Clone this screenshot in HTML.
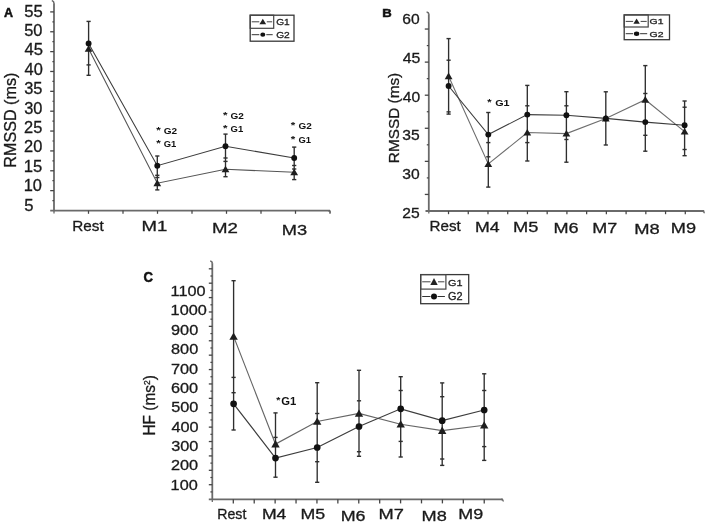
<!DOCTYPE html><html><head><meta charset="utf-8"><style>html,body{margin:0;padding:0;background:#fff;}svg{display:block;filter:grayscale(1)}text{font-family:"Liberation Sans", sans-serif;}</style></head><body>
<svg width="706" height="523" viewBox="0 0 706 523">
<rect width="706" height="523" fill="#fff"/>
<text transform="translate(3.89,17.00) scale(0.961,1)" font-size="13.04" font-weight="bold" fill="#111" stroke="#111" stroke-width="0.5">A</text>
<line x1="54.00" y1="3.20" x2="54.00" y2="211.20" stroke="#6a6a6a" stroke-width="1.8"/>
<line x1="50.20" y1="11.90" x2="54.00" y2="11.90" stroke="#454545" stroke-width="1.3"/>
<line x1="52.40" y1="21.83" x2="54.00" y2="21.83" stroke="#454545" stroke-width="1.2"/>
<line x1="50.20" y1="31.76" x2="54.00" y2="31.76" stroke="#454545" stroke-width="1.3"/>
<line x1="52.40" y1="41.69" x2="54.00" y2="41.69" stroke="#454545" stroke-width="1.2"/>
<line x1="50.20" y1="51.62" x2="54.00" y2="51.62" stroke="#454545" stroke-width="1.3"/>
<line x1="52.40" y1="61.55" x2="54.00" y2="61.55" stroke="#454545" stroke-width="1.2"/>
<line x1="50.20" y1="71.48" x2="54.00" y2="71.48" stroke="#454545" stroke-width="1.3"/>
<line x1="52.40" y1="81.41" x2="54.00" y2="81.41" stroke="#454545" stroke-width="1.2"/>
<line x1="50.20" y1="91.34" x2="54.00" y2="91.34" stroke="#454545" stroke-width="1.3"/>
<line x1="52.40" y1="101.27" x2="54.00" y2="101.27" stroke="#454545" stroke-width="1.2"/>
<line x1="50.20" y1="111.20" x2="54.00" y2="111.20" stroke="#454545" stroke-width="1.3"/>
<line x1="52.40" y1="121.13" x2="54.00" y2="121.13" stroke="#454545" stroke-width="1.2"/>
<line x1="50.20" y1="131.06" x2="54.00" y2="131.06" stroke="#454545" stroke-width="1.3"/>
<line x1="52.40" y1="140.99" x2="54.00" y2="140.99" stroke="#454545" stroke-width="1.2"/>
<line x1="50.20" y1="150.92" x2="54.00" y2="150.92" stroke="#454545" stroke-width="1.3"/>
<line x1="52.40" y1="160.85" x2="54.00" y2="160.85" stroke="#454545" stroke-width="1.2"/>
<line x1="50.20" y1="170.78" x2="54.00" y2="170.78" stroke="#454545" stroke-width="1.3"/>
<line x1="52.40" y1="180.71" x2="54.00" y2="180.71" stroke="#454545" stroke-width="1.2"/>
<line x1="50.20" y1="190.64" x2="54.00" y2="190.64" stroke="#454545" stroke-width="1.3"/>
<line x1="52.40" y1="200.57" x2="54.00" y2="200.57" stroke="#454545" stroke-width="1.2"/>
<line x1="50.20" y1="210.60" x2="330.00" y2="210.60" stroke="#6a6a6a" stroke-width="1.8"/>
<line x1="54.00" y1="210.60" x2="54.00" y2="213.40" stroke="#6a6a6a" stroke-width="1.3"/>
<line x1="88.50" y1="210.60" x2="88.50" y2="213.80" stroke="#454545" stroke-width="1.25"/>
<line x1="123.00" y1="210.60" x2="123.00" y2="213.80" stroke="#454545" stroke-width="1.25"/>
<line x1="157.50" y1="210.60" x2="157.50" y2="213.80" stroke="#454545" stroke-width="1.25"/>
<line x1="192.00" y1="210.60" x2="192.00" y2="213.80" stroke="#454545" stroke-width="1.25"/>
<line x1="226.50" y1="210.60" x2="226.50" y2="213.80" stroke="#454545" stroke-width="1.25"/>
<line x1="261.00" y1="210.60" x2="261.00" y2="213.80" stroke="#454545" stroke-width="1.25"/>
<line x1="295.50" y1="210.60" x2="295.50" y2="213.80" stroke="#454545" stroke-width="1.25"/>
<line x1="330.00" y1="210.60" x2="330.00" y2="213.80" stroke="#454545" stroke-width="1.25"/>
<text transform="translate(24.23,16.70) scale(1.045,1)" font-size="15.94" font-weight="normal" fill="#1a1a1a" stroke="#1a1a1a" stroke-width="0.3">55</text>
<text transform="translate(24.24,36.09) scale(1.045,1)" font-size="15.71" font-weight="normal" fill="#1a1a1a" stroke="#1a1a1a" stroke-width="0.3">50</text>
<text transform="translate(24.57,55.48) scale(1.045,1)" font-size="15.94" font-weight="normal" fill="#1a1a1a" stroke="#1a1a1a" stroke-width="0.3">45</text>
<text transform="translate(24.57,74.87) scale(1.045,1)" font-size="15.71" font-weight="normal" fill="#1a1a1a" stroke="#1a1a1a" stroke-width="0.3">40</text>
<text transform="translate(24.24,94.26) scale(1.045,1)" font-size="15.71" font-weight="normal" fill="#1a1a1a" stroke="#1a1a1a" stroke-width="0.3">35</text>
<text transform="translate(24.24,113.65) scale(1.045,1)" font-size="15.71" font-weight="normal" fill="#1a1a1a" stroke="#1a1a1a" stroke-width="0.3">30</text>
<text transform="translate(24.08,133.04) scale(1.045,1)" font-size="15.71" font-weight="normal" fill="#1a1a1a" stroke="#1a1a1a" stroke-width="0.3">25</text>
<text transform="translate(24.08,152.43) scale(1.045,1)" font-size="15.71" font-weight="normal" fill="#1a1a1a" stroke="#1a1a1a" stroke-width="0.3">20</text>
<text transform="translate(23.65,171.82) scale(1.045,1)" font-size="15.94" font-weight="normal" fill="#1a1a1a" stroke="#1a1a1a" stroke-width="0.3">15</text>
<text transform="translate(23.67,191.21) scale(1.045,1)" font-size="15.71" font-weight="normal" fill="#1a1a1a" stroke="#1a1a1a" stroke-width="0.3">10</text>
<text transform="translate(24.23,210.60) scale(1.045,1)" font-size="15.94" font-weight="normal" fill="#1a1a1a" stroke="#1a1a1a" stroke-width="0.3">5</text>
<text transform="translate(16.40,167.69) rotate(-90) scale(0.961,1)" font-size="16.81" fill="#1a1a1a" stroke="#1a1a1a" stroke-width="0.3">RMSSD (ms)</text>
<text transform="translate(72.28,231.40) scale(1.044,1)" font-size="14.64" font-weight="normal" fill="#1a1a1a" stroke="#1a1a1a" stroke-width="0.3">Rest</text>
<text transform="translate(141.51,231.40) scale(1.269,1)" font-size="14.64" font-weight="normal" fill="#1a1a1a" stroke="#1a1a1a" stroke-width="0.3">M1</text>
<text transform="translate(212.01,233.20) scale(1.268,1)" font-size="14.71" font-weight="normal" fill="#1a1a1a" stroke="#1a1a1a" stroke-width="0.3">M2</text>
<text transform="translate(281.84,234.80) scale(1.218,1)" font-size="15.00" font-weight="normal" fill="#1a1a1a" stroke="#1a1a1a" stroke-width="0.3">M3</text>
<polyline points="88.60,48.80 157.30,183.20 225.50,169.30 294.20,172.30" fill="none" stroke="#555" stroke-width="1.1"/>
<polyline points="88.60,43.40 157.30,165.70 225.50,146.30 294.20,158.00" fill="none" stroke="#3c3c3c" stroke-width="1.1"/>
<line x1="88.60" y1="21.40" x2="88.60" y2="75.30" stroke="#2e2e2e" stroke-width="1.35"/>
<line x1="86.50" y1="21.40" x2="90.70" y2="21.40" stroke="#2e2e2e" stroke-width="1.4"/>
<line x1="86.50" y1="64.90" x2="90.70" y2="64.90" stroke="#2e2e2e" stroke-width="1.4"/>
<line x1="86.50" y1="75.30" x2="90.70" y2="75.30" stroke="#2e2e2e" stroke-width="1.4"/>
<line x1="157.30" y1="156.00" x2="157.30" y2="189.90" stroke="#2e2e2e" stroke-width="1.35"/>
<line x1="155.20" y1="156.00" x2="159.40" y2="156.00" stroke="#2e2e2e" stroke-width="1.4"/>
<line x1="155.20" y1="175.30" x2="159.40" y2="175.30" stroke="#2e2e2e" stroke-width="1.4"/>
<line x1="155.20" y1="177.50" x2="159.40" y2="177.50" stroke="#2e2e2e" stroke-width="1.4"/>
<line x1="155.20" y1="189.90" x2="159.40" y2="189.90" stroke="#2e2e2e" stroke-width="1.4"/>
<line x1="225.50" y1="134.10" x2="225.50" y2="176.70" stroke="#2e2e2e" stroke-width="1.35"/>
<line x1="223.40" y1="134.10" x2="227.60" y2="134.10" stroke="#2e2e2e" stroke-width="1.4"/>
<line x1="223.40" y1="158.00" x2="227.60" y2="158.00" stroke="#2e2e2e" stroke-width="1.4"/>
<line x1="223.40" y1="161.40" x2="227.60" y2="161.40" stroke="#2e2e2e" stroke-width="1.4"/>
<line x1="223.40" y1="176.70" x2="227.60" y2="176.70" stroke="#2e2e2e" stroke-width="1.4"/>
<line x1="294.20" y1="147.10" x2="294.20" y2="179.60" stroke="#2e2e2e" stroke-width="1.35"/>
<line x1="292.10" y1="147.10" x2="296.30" y2="147.10" stroke="#2e2e2e" stroke-width="1.4"/>
<line x1="292.10" y1="165.50" x2="296.30" y2="165.50" stroke="#2e2e2e" stroke-width="1.4"/>
<line x1="292.10" y1="169.00" x2="296.30" y2="169.00" stroke="#2e2e2e" stroke-width="1.4"/>
<line x1="292.10" y1="179.60" x2="296.30" y2="179.60" stroke="#2e2e2e" stroke-width="1.4"/>
<polygon points="88.60,45.20 92.50,51.80 84.70,51.80" fill="#1e1e1e"/>
<polygon points="157.30,179.60 161.20,186.20 153.40,186.20" fill="#1e1e1e"/>
<polygon points="225.50,165.70 229.40,172.30 221.60,172.30" fill="#1e1e1e"/>
<polygon points="294.20,168.70 298.10,175.30 290.30,175.30" fill="#1e1e1e"/>
<circle cx="88.60" cy="43.40" r="2.95" fill="#111"/>
<circle cx="157.30" cy="165.70" r="2.95" fill="#111"/>
<circle cx="225.50" cy="146.30" r="2.95" fill="#111"/>
<circle cx="294.20" cy="158.00" r="2.95" fill="#111"/>
<text transform="translate(156.14,133.17) scale(1.339,1)" font-size="8.65" font-weight="bold" fill="#111">*</text>
<text transform="translate(163.70,134.10) scale(1.065,1)" font-size="9.43" font-weight="bold" fill="#111">G2</text>
<text transform="translate(156.14,145.77) scale(1.339,1)" font-size="8.65" font-weight="bold" fill="#111">*</text>
<text transform="translate(163.72,146.70) scale(1.002,1)" font-size="9.43" font-weight="bold" fill="#111">G1</text>
<text transform="translate(222.94,117.87) scale(1.339,1)" font-size="8.65" font-weight="bold" fill="#111">*</text>
<text transform="translate(230.50,118.60) scale(1.098,1)" font-size="9.14" font-weight="bold" fill="#111">G2</text>
<text transform="translate(222.94,131.37) scale(1.339,1)" font-size="8.65" font-weight="bold" fill="#111">*</text>
<text transform="translate(230.52,132.10) scale(1.042,1)" font-size="9.14" font-weight="bold" fill="#111">G1</text>
<text transform="translate(290.74,128.37) scale(1.339,1)" font-size="8.65" font-weight="bold" fill="#111">*</text>
<text transform="translate(298.40,129.20) scale(1.073,1)" font-size="9.29" font-weight="bold" fill="#111">G2</text>
<text transform="translate(290.74,141.67) scale(1.339,1)" font-size="8.65" font-weight="bold" fill="#111">*</text>
<text transform="translate(298.42,142.60) scale(1.002,1)" font-size="9.43" font-weight="bold" fill="#111">G1</text>
<rect x="250.20" y="15.20" width="43.80" height="26.00" fill="#fff" stroke="#383838" stroke-width="1.3"/>
<rect x="250.20" y="15.20" width="23.50" height="13.10" fill="none" stroke="#444" stroke-width="1.2"/>
<line x1="251.70" y1="21.80" x2="259.30" y2="21.80" stroke="#444" stroke-width="1.0"/>
<line x1="266.80" y1="21.80" x2="272.20" y2="21.80" stroke="#444" stroke-width="1.0"/>
<polygon points="262.80,18.70 266.15,24.30 259.45,24.30" fill="#222"/>
<line x1="251.70" y1="34.70" x2="259.30" y2="34.70" stroke="#333" stroke-width="1.0"/>
<line x1="266.30" y1="34.70" x2="272.70" y2="34.70" stroke="#333" stroke-width="1.0"/>
<ellipse cx="262.80" cy="34.70" rx="2.5" ry="2.1" fill="#111"/>
<text transform="translate(276.19,25.30) scale(1.111,1)" font-size="9.14" font-weight="normal" fill="#222" stroke="#222" stroke-width="0.3">G1</text>
<text transform="translate(276.19,37.90) scale(1.134,1)" font-size="9.00" font-weight="normal" fill="#222" stroke="#222" stroke-width="0.3">G2</text>
<path d="M51.8,0.6 Q54,1.2 54,3.5" fill="none" stroke="#6a6a6a" stroke-width="1.5"/>
<path d="M328,210.6 Q330.2,210.8 330.4,212.8" fill="none" stroke="#6a6a6a" stroke-width="1.4"/>
<text transform="translate(382.15,16.50) scale(1.160,1)" font-size="11.30" font-weight="bold" fill="#111" stroke="#111" stroke-width="0.5">B</text>
<line x1="428.80" y1="14.20" x2="428.80" y2="211.60" stroke="#6a6a6a" stroke-width="1.8"/>
<line x1="424.80" y1="29.04" x2="428.80" y2="29.04" stroke="#454545" stroke-width="1.3"/>
<line x1="426.80" y1="45.58" x2="428.80" y2="45.58" stroke="#454545" stroke-width="1.2"/>
<line x1="424.80" y1="62.12" x2="428.80" y2="62.12" stroke="#454545" stroke-width="1.3"/>
<line x1="426.80" y1="78.66" x2="428.80" y2="78.66" stroke="#454545" stroke-width="1.2"/>
<line x1="424.80" y1="95.20" x2="428.80" y2="95.20" stroke="#454545" stroke-width="1.3"/>
<line x1="426.80" y1="111.74" x2="428.80" y2="111.74" stroke="#454545" stroke-width="1.2"/>
<line x1="424.80" y1="128.28" x2="428.80" y2="128.28" stroke="#454545" stroke-width="1.3"/>
<line x1="426.80" y1="144.82" x2="428.80" y2="144.82" stroke="#454545" stroke-width="1.2"/>
<line x1="424.80" y1="161.36" x2="428.80" y2="161.36" stroke="#454545" stroke-width="1.3"/>
<line x1="426.80" y1="177.90" x2="428.80" y2="177.90" stroke="#454545" stroke-width="1.2"/>
<line x1="424.80" y1="194.44" x2="428.80" y2="194.44" stroke="#454545" stroke-width="1.3"/>
<line x1="425.50" y1="211.00" x2="704.20" y2="211.00" stroke="#6a6a6a" stroke-width="1.8"/>
<line x1="428.80" y1="211.00" x2="428.80" y2="213.60" stroke="#6a6a6a" stroke-width="1.3"/>
<line x1="448.53" y1="211.00" x2="448.53" y2="214.20" stroke="#454545" stroke-width="1.25"/>
<line x1="468.26" y1="211.00" x2="468.26" y2="214.20" stroke="#454545" stroke-width="1.25"/>
<line x1="487.99" y1="211.00" x2="487.99" y2="214.20" stroke="#454545" stroke-width="1.25"/>
<line x1="507.72" y1="211.00" x2="507.72" y2="214.20" stroke="#454545" stroke-width="1.25"/>
<line x1="527.45" y1="211.00" x2="527.45" y2="214.20" stroke="#454545" stroke-width="1.25"/>
<line x1="547.18" y1="211.00" x2="547.18" y2="214.20" stroke="#454545" stroke-width="1.25"/>
<line x1="566.91" y1="211.00" x2="566.91" y2="214.20" stroke="#454545" stroke-width="1.25"/>
<line x1="586.64" y1="211.00" x2="586.64" y2="214.20" stroke="#454545" stroke-width="1.25"/>
<line x1="606.37" y1="211.00" x2="606.37" y2="214.20" stroke="#454545" stroke-width="1.25"/>
<line x1="626.10" y1="211.00" x2="626.10" y2="214.20" stroke="#454545" stroke-width="1.25"/>
<line x1="645.83" y1="211.00" x2="645.83" y2="214.20" stroke="#454545" stroke-width="1.25"/>
<line x1="665.56" y1="211.00" x2="665.56" y2="214.20" stroke="#454545" stroke-width="1.25"/>
<line x1="685.29" y1="211.00" x2="685.29" y2="214.20" stroke="#454545" stroke-width="1.25"/>
<text transform="translate(402.22,24.10) scale(1.074,1)" font-size="14.57" font-weight="normal" fill="#1a1a1a" stroke="#1a1a1a" stroke-width="0.3">60</text>
<text transform="translate(402.68,62.80) scale(1.074,1)" font-size="14.78" font-weight="normal" fill="#1a1a1a" stroke="#1a1a1a" stroke-width="0.3">45</text>
<text transform="translate(402.69,101.50) scale(1.074,1)" font-size="14.57" font-weight="normal" fill="#1a1a1a" stroke="#1a1a1a" stroke-width="0.3">40</text>
<text transform="translate(402.37,140.20) scale(1.074,1)" font-size="14.57" font-weight="normal" fill="#1a1a1a" stroke="#1a1a1a" stroke-width="0.3">35</text>
<text transform="translate(402.37,178.90) scale(1.074,1)" font-size="14.57" font-weight="normal" fill="#1a1a1a" stroke="#1a1a1a" stroke-width="0.3">30</text>
<text transform="translate(402.22,217.60) scale(1.074,1)" font-size="14.57" font-weight="normal" fill="#1a1a1a" stroke="#1a1a1a" stroke-width="0.3">25</text>
<text transform="translate(398.80,163.13) rotate(-90) scale(1.019,1)" font-size="15.07" fill="#1a1a1a" stroke="#1a1a1a" stroke-width="0.3">RMSSD (ms)</text>
<text transform="translate(429.59,231.20) scale(1.027,1)" font-size="14.78" font-weight="normal" fill="#1a1a1a" stroke="#1a1a1a" stroke-width="0.3">Rest</text>
<text transform="translate(475.08,232.00) scale(1.144,1)" font-size="15.51" font-weight="normal" fill="#1a1a1a" stroke="#1a1a1a" stroke-width="0.3">M4</text>
<text transform="translate(513.04,232.00) scale(1.178,1)" font-size="15.51" font-weight="normal" fill="#1a1a1a" stroke="#1a1a1a" stroke-width="0.3">M5</text>
<text transform="translate(553.55,233.00) scale(1.243,1)" font-size="14.57" font-weight="normal" fill="#1a1a1a" stroke="#1a1a1a" stroke-width="0.3">M6</text>
<text transform="translate(592.16,232.50) scale(1.195,1)" font-size="15.07" font-weight="normal" fill="#1a1a1a" stroke="#1a1a1a" stroke-width="0.3">M7</text>
<text transform="translate(634.23,233.60) scale(1.247,1)" font-size="14.71" font-weight="normal" fill="#1a1a1a" stroke="#1a1a1a" stroke-width="0.3">M8</text>
<text transform="translate(670.75,232.50) scale(1.224,1)" font-size="14.86" font-weight="normal" fill="#1a1a1a" stroke="#1a1a1a" stroke-width="0.3">M9</text>
<polyline points="448.60,76.20 488.30,164.00 527.30,132.50 566.40,133.60 605.80,118.40 645.30,99.70 684.60,131.60" fill="none" stroke="#6e6e6e" stroke-width="1.1"/>
<polyline points="448.60,86.00 488.30,134.60 527.30,114.60 566.40,115.30 605.80,118.40 645.30,122.10 684.60,125.30" fill="none" stroke="#3c3c3c" stroke-width="1.1"/>
<line x1="448.60" y1="38.60" x2="448.60" y2="114.10" stroke="#2e2e2e" stroke-width="1.35"/>
<line x1="446.50" y1="38.60" x2="450.70" y2="38.60" stroke="#2e2e2e" stroke-width="1.4"/>
<line x1="446.50" y1="60.20" x2="450.70" y2="60.20" stroke="#2e2e2e" stroke-width="1.4"/>
<line x1="446.50" y1="111.90" x2="450.70" y2="111.90" stroke="#2e2e2e" stroke-width="1.4"/>
<line x1="446.50" y1="114.10" x2="450.70" y2="114.10" stroke="#2e2e2e" stroke-width="1.4"/>
<line x1="488.30" y1="112.50" x2="488.30" y2="187.10" stroke="#2e2e2e" stroke-width="1.35"/>
<line x1="486.20" y1="112.50" x2="490.40" y2="112.50" stroke="#2e2e2e" stroke-width="1.4"/>
<line x1="486.20" y1="142.60" x2="490.40" y2="142.60" stroke="#2e2e2e" stroke-width="1.4"/>
<line x1="486.20" y1="156.80" x2="490.40" y2="156.80" stroke="#2e2e2e" stroke-width="1.4"/>
<line x1="486.20" y1="187.10" x2="490.40" y2="187.10" stroke="#2e2e2e" stroke-width="1.4"/>
<line x1="527.30" y1="85.40" x2="527.30" y2="161.00" stroke="#2e2e2e" stroke-width="1.35"/>
<line x1="525.20" y1="85.40" x2="529.40" y2="85.40" stroke="#2e2e2e" stroke-width="1.4"/>
<line x1="525.20" y1="105.80" x2="529.40" y2="105.80" stroke="#2e2e2e" stroke-width="1.4"/>
<line x1="525.20" y1="142.60" x2="529.40" y2="142.60" stroke="#2e2e2e" stroke-width="1.4"/>
<line x1="525.20" y1="161.00" x2="529.40" y2="161.00" stroke="#2e2e2e" stroke-width="1.4"/>
<line x1="566.40" y1="91.70" x2="566.40" y2="162.20" stroke="#2e2e2e" stroke-width="1.35"/>
<line x1="564.30" y1="91.70" x2="568.50" y2="91.70" stroke="#2e2e2e" stroke-width="1.4"/>
<line x1="564.30" y1="105.80" x2="568.50" y2="105.80" stroke="#2e2e2e" stroke-width="1.4"/>
<line x1="564.30" y1="139.50" x2="568.50" y2="139.50" stroke="#2e2e2e" stroke-width="1.4"/>
<line x1="564.30" y1="162.20" x2="568.50" y2="162.20" stroke="#2e2e2e" stroke-width="1.4"/>
<line x1="605.80" y1="91.80" x2="605.80" y2="145.00" stroke="#2e2e2e" stroke-width="1.35"/>
<line x1="603.70" y1="91.80" x2="607.90" y2="91.80" stroke="#2e2e2e" stroke-width="1.4"/>
<line x1="603.70" y1="145.00" x2="607.90" y2="145.00" stroke="#2e2e2e" stroke-width="1.4"/>
<line x1="645.30" y1="65.60" x2="645.30" y2="151.20" stroke="#2e2e2e" stroke-width="1.35"/>
<line x1="643.20" y1="65.60" x2="647.40" y2="65.60" stroke="#2e2e2e" stroke-width="1.4"/>
<line x1="643.20" y1="93.50" x2="647.40" y2="93.50" stroke="#2e2e2e" stroke-width="1.4"/>
<line x1="643.20" y1="135.30" x2="647.40" y2="135.30" stroke="#2e2e2e" stroke-width="1.4"/>
<line x1="643.20" y1="151.20" x2="647.40" y2="151.20" stroke="#2e2e2e" stroke-width="1.4"/>
<line x1="684.60" y1="101.00" x2="684.60" y2="155.70" stroke="#2e2e2e" stroke-width="1.35"/>
<line x1="682.50" y1="101.00" x2="686.70" y2="101.00" stroke="#2e2e2e" stroke-width="1.4"/>
<line x1="682.50" y1="107.20" x2="686.70" y2="107.20" stroke="#2e2e2e" stroke-width="1.4"/>
<line x1="682.50" y1="149.50" x2="686.70" y2="149.50" stroke="#2e2e2e" stroke-width="1.4"/>
<line x1="682.50" y1="155.70" x2="686.70" y2="155.70" stroke="#2e2e2e" stroke-width="1.4"/>
<polygon points="448.60,72.60 452.50,79.20 444.70,79.20" fill="#1e1e1e"/>
<polygon points="488.30,160.40 492.20,167.00 484.40,167.00" fill="#1e1e1e"/>
<polygon points="527.30,128.90 531.20,135.50 523.40,135.50" fill="#1e1e1e"/>
<polygon points="566.40,130.00 570.30,136.60 562.50,136.60" fill="#1e1e1e"/>
<polygon points="605.80,114.80 609.70,121.40 601.90,121.40" fill="#1e1e1e"/>
<polygon points="645.30,96.10 649.20,102.70 641.40,102.70" fill="#1e1e1e"/>
<polygon points="684.60,128.00 688.50,134.60 680.70,134.60" fill="#1e1e1e"/>
<circle cx="448.60" cy="86.00" r="2.95" fill="#111"/>
<circle cx="488.30" cy="134.60" r="2.95" fill="#111"/>
<circle cx="527.30" cy="114.60" r="2.95" fill="#111"/>
<circle cx="566.40" cy="115.30" r="2.95" fill="#111"/>
<circle cx="605.80" cy="118.40" r="2.95" fill="#111"/>
<circle cx="645.30" cy="122.10" r="2.95" fill="#111"/>
<circle cx="684.60" cy="125.30" r="2.95" fill="#111"/>
<text transform="translate(487.14,104.97) scale(1.278,1)" font-size="8.65" font-weight="bold" fill="#111">*</text>
<text transform="translate(495.17,106.40) scale(1.180,1)" font-size="9.14" font-weight="bold" fill="#111">G1</text>
<rect x="624.20" y="14.90" width="45.30" height="24.80" fill="#fff" stroke="#383838" stroke-width="1.3"/>
<rect x="624.20" y="14.90" width="24.00" height="12.10" fill="none" stroke="#444" stroke-width="1.2"/>
<line x1="625.70" y1="21.40" x2="633.10" y2="21.40" stroke="#444" stroke-width="1.0"/>
<line x1="640.60" y1="21.40" x2="646.70" y2="21.40" stroke="#444" stroke-width="1.0"/>
<polygon points="636.60,18.50 639.80,23.70 633.40,23.70" fill="#222"/>
<line x1="625.70" y1="33.70" x2="633.10" y2="33.70" stroke="#333" stroke-width="1.0"/>
<line x1="640.10" y1="33.70" x2="647.20" y2="33.70" stroke="#333" stroke-width="1.0"/>
<ellipse cx="636.60" cy="33.70" rx="2.7" ry="2.2" fill="#111"/>
<text transform="translate(649.58,24.30) scale(1.349,1)" font-size="7.71" font-weight="normal" fill="#222" stroke="#222" stroke-width="0.3">G1</text>
<text transform="translate(649.58,36.50) scale(1.329,1)" font-size="7.86" font-weight="normal" fill="#222" stroke="#222" stroke-width="0.3">G2</text>
<path d="M426.6,12 Q428.8,12.4 428.8,14.5" fill="none" stroke="#6a6a6a" stroke-width="1.5"/>
<path d="M702,211 Q704.2,211.2 704.4,213.2" fill="none" stroke="#6a6a6a" stroke-width="1.4"/>
<text transform="translate(143.47,281.80) scale(0.938,1)" font-size="14.00" font-weight="bold" fill="#111" stroke="#111" stroke-width="0.5">C</text>
<line x1="212.30" y1="263.20" x2="212.30" y2="499.60" stroke="#6a6a6a" stroke-width="1.8"/>
<line x1="208.80" y1="268.80" x2="212.30" y2="268.80" stroke="#454545" stroke-width="1.3"/>
<line x1="210.40" y1="276.00" x2="212.30" y2="276.00" stroke="#454545" stroke-width="1.2"/>
<line x1="208.80" y1="283.19" x2="212.30" y2="283.19" stroke="#454545" stroke-width="1.3"/>
<line x1="210.40" y1="290.39" x2="212.30" y2="290.39" stroke="#454545" stroke-width="1.2"/>
<line x1="208.80" y1="297.59" x2="212.30" y2="297.59" stroke="#454545" stroke-width="1.3"/>
<line x1="210.40" y1="304.79" x2="212.30" y2="304.79" stroke="#454545" stroke-width="1.2"/>
<line x1="208.80" y1="311.98" x2="212.30" y2="311.98" stroke="#454545" stroke-width="1.3"/>
<line x1="210.40" y1="319.18" x2="212.30" y2="319.18" stroke="#454545" stroke-width="1.2"/>
<line x1="208.80" y1="326.38" x2="212.30" y2="326.38" stroke="#454545" stroke-width="1.3"/>
<line x1="210.40" y1="333.57" x2="212.30" y2="333.57" stroke="#454545" stroke-width="1.2"/>
<line x1="208.80" y1="340.77" x2="212.30" y2="340.77" stroke="#454545" stroke-width="1.3"/>
<line x1="210.40" y1="347.97" x2="212.30" y2="347.97" stroke="#454545" stroke-width="1.2"/>
<line x1="208.80" y1="355.16" x2="212.30" y2="355.16" stroke="#454545" stroke-width="1.3"/>
<line x1="210.40" y1="362.36" x2="212.30" y2="362.36" stroke="#454545" stroke-width="1.2"/>
<line x1="208.80" y1="369.56" x2="212.30" y2="369.56" stroke="#454545" stroke-width="1.3"/>
<line x1="210.40" y1="376.75" x2="212.30" y2="376.75" stroke="#454545" stroke-width="1.2"/>
<line x1="208.80" y1="383.95" x2="212.30" y2="383.95" stroke="#454545" stroke-width="1.3"/>
<line x1="210.40" y1="391.15" x2="212.30" y2="391.15" stroke="#454545" stroke-width="1.2"/>
<line x1="208.80" y1="398.35" x2="212.30" y2="398.35" stroke="#454545" stroke-width="1.3"/>
<line x1="210.40" y1="405.54" x2="212.30" y2="405.54" stroke="#454545" stroke-width="1.2"/>
<line x1="208.80" y1="412.74" x2="212.30" y2="412.74" stroke="#454545" stroke-width="1.3"/>
<line x1="210.40" y1="419.94" x2="212.30" y2="419.94" stroke="#454545" stroke-width="1.2"/>
<line x1="208.80" y1="427.13" x2="212.30" y2="427.13" stroke="#454545" stroke-width="1.3"/>
<line x1="210.40" y1="434.33" x2="212.30" y2="434.33" stroke="#454545" stroke-width="1.2"/>
<line x1="208.80" y1="441.53" x2="212.30" y2="441.53" stroke="#454545" stroke-width="1.3"/>
<line x1="210.40" y1="448.73" x2="212.30" y2="448.73" stroke="#454545" stroke-width="1.2"/>
<line x1="208.80" y1="455.92" x2="212.30" y2="455.92" stroke="#454545" stroke-width="1.3"/>
<line x1="210.40" y1="463.12" x2="212.30" y2="463.12" stroke="#454545" stroke-width="1.2"/>
<line x1="208.80" y1="470.32" x2="212.30" y2="470.32" stroke="#454545" stroke-width="1.3"/>
<line x1="210.40" y1="477.51" x2="212.30" y2="477.51" stroke="#454545" stroke-width="1.2"/>
<line x1="208.80" y1="484.71" x2="212.30" y2="484.71" stroke="#454545" stroke-width="1.3"/>
<line x1="210.40" y1="491.91" x2="212.30" y2="491.91" stroke="#454545" stroke-width="1.2"/>
<line x1="208.80" y1="499.30" x2="503.00" y2="499.30" stroke="#6a6a6a" stroke-width="1.8"/>
<line x1="212.30" y1="499.30" x2="212.30" y2="502.00" stroke="#6a6a6a" stroke-width="1.3"/>
<line x1="233.31" y1="499.30" x2="233.31" y2="503.40" stroke="#454545" stroke-width="1.3"/>
<line x1="254.22" y1="499.30" x2="254.22" y2="503.40" stroke="#454545" stroke-width="1.3"/>
<line x1="275.13" y1="499.30" x2="275.13" y2="503.40" stroke="#454545" stroke-width="1.3"/>
<line x1="296.04" y1="499.30" x2="296.04" y2="503.40" stroke="#454545" stroke-width="1.3"/>
<line x1="316.95" y1="499.30" x2="316.95" y2="503.40" stroke="#454545" stroke-width="1.3"/>
<line x1="337.86" y1="499.30" x2="337.86" y2="503.40" stroke="#454545" stroke-width="1.3"/>
<line x1="358.77" y1="499.30" x2="358.77" y2="503.40" stroke="#454545" stroke-width="1.3"/>
<line x1="379.68" y1="499.30" x2="379.68" y2="503.40" stroke="#454545" stroke-width="1.3"/>
<line x1="400.59" y1="499.30" x2="400.59" y2="503.40" stroke="#454545" stroke-width="1.3"/>
<line x1="421.50" y1="499.30" x2="421.50" y2="503.40" stroke="#454545" stroke-width="1.3"/>
<line x1="442.41" y1="499.30" x2="442.41" y2="503.40" stroke="#454545" stroke-width="1.3"/>
<line x1="463.32" y1="499.30" x2="463.32" y2="503.40" stroke="#454545" stroke-width="1.3"/>
<line x1="484.23" y1="499.30" x2="484.23" y2="503.40" stroke="#454545" stroke-width="1.3"/>
<text transform="translate(170.58,296.10) scale(1.117,1)" font-size="14.57" font-weight="normal" fill="#1a1a1a" stroke="#1a1a1a" stroke-width="0.3">1100</text>
<text transform="translate(170.58,315.45) scale(1.117,1)" font-size="14.57" font-weight="normal" fill="#1a1a1a" stroke="#1a1a1a" stroke-width="0.3">1000</text>
<text transform="translate(171.07,334.80) scale(1.117,1)" font-size="14.57" font-weight="normal" fill="#1a1a1a" stroke="#1a1a1a" stroke-width="0.3">900</text>
<text transform="translate(171.07,354.15) scale(1.117,1)" font-size="14.57" font-weight="normal" fill="#1a1a1a" stroke="#1a1a1a" stroke-width="0.3">800</text>
<text transform="translate(170.99,373.50) scale(1.117,1)" font-size="14.57" font-weight="normal" fill="#1a1a1a" stroke="#1a1a1a" stroke-width="0.3">700</text>
<text transform="translate(170.99,392.85) scale(1.117,1)" font-size="14.57" font-weight="normal" fill="#1a1a1a" stroke="#1a1a1a" stroke-width="0.3">600</text>
<text transform="translate(171.15,412.20) scale(1.117,1)" font-size="14.57" font-weight="normal" fill="#1a1a1a" stroke="#1a1a1a" stroke-width="0.3">500</text>
<text transform="translate(171.47,431.55) scale(1.117,1)" font-size="14.57" font-weight="normal" fill="#1a1a1a" stroke="#1a1a1a" stroke-width="0.3">400</text>
<text transform="translate(171.15,450.90) scale(1.117,1)" font-size="14.57" font-weight="normal" fill="#1a1a1a" stroke="#1a1a1a" stroke-width="0.3">300</text>
<text transform="translate(170.99,470.25) scale(1.117,1)" font-size="14.57" font-weight="normal" fill="#1a1a1a" stroke="#1a1a1a" stroke-width="0.3">200</text>
<text transform="translate(170.58,489.60) scale(1.117,1)" font-size="14.57" font-weight="normal" fill="#1a1a1a" stroke="#1a1a1a" stroke-width="0.3">100</text>
<text transform="translate(217.27,519.20) scale(0.997,1)" font-size="14.20" font-weight="normal" fill="#1a1a1a" stroke="#1a1a1a" stroke-width="0.3">Rest</text>
<text transform="translate(261.89,519.20) scale(1.243,1)" font-size="14.20" font-weight="normal" fill="#1a1a1a" stroke="#1a1a1a" stroke-width="0.3">M4</text>
<text transform="translate(300.38,519.40) scale(1.228,1)" font-size="14.49" font-weight="normal" fill="#1a1a1a" stroke="#1a1a1a" stroke-width="0.3">M5</text>
<text transform="translate(340.67,521.00) scale(1.251,1)" font-size="14.29" font-weight="normal" fill="#1a1a1a" stroke="#1a1a1a" stroke-width="0.3">M6</text>
<text transform="translate(378.54,519.00) scale(1.235,1)" font-size="14.78" font-weight="normal" fill="#1a1a1a" stroke="#1a1a1a" stroke-width="0.3">M7</text>
<text transform="translate(421.54,521.40) scale(1.224,1)" font-size="14.86" font-weight="normal" fill="#1a1a1a" stroke="#1a1a1a" stroke-width="0.3">M8</text>
<text transform="translate(458.26,519.00) scale(1.231,1)" font-size="14.57" font-weight="normal" fill="#1a1a1a" stroke="#1a1a1a" stroke-width="0.3">M9</text>
<polyline points="233.60,336.40 275.50,444.10 317.20,421.50 359.00,413.40 400.70,424.20 442.20,430.60 484.20,425.30" fill="none" stroke="#666" stroke-width="1.15"/>
<polyline points="233.60,403.80 275.50,458.10 317.20,447.50 359.00,426.50 400.70,408.80 442.20,420.70 484.20,410.00" fill="none" stroke="#3c3c3c" stroke-width="1.2"/>
<line x1="233.60" y1="280.70" x2="233.60" y2="430.00" stroke="#2e2e2e" stroke-width="1.35"/>
<line x1="231.50" y1="280.70" x2="235.70" y2="280.70" stroke="#2e2e2e" stroke-width="1.4"/>
<line x1="231.50" y1="377.40" x2="235.70" y2="377.40" stroke="#2e2e2e" stroke-width="1.4"/>
<line x1="231.50" y1="392.70" x2="235.70" y2="392.70" stroke="#2e2e2e" stroke-width="1.4"/>
<line x1="231.50" y1="430.00" x2="235.70" y2="430.00" stroke="#2e2e2e" stroke-width="1.4"/>
<line x1="275.50" y1="412.90" x2="275.50" y2="477.20" stroke="#2e2e2e" stroke-width="1.35"/>
<line x1="273.40" y1="412.90" x2="277.60" y2="412.90" stroke="#2e2e2e" stroke-width="1.4"/>
<line x1="273.40" y1="437.40" x2="277.60" y2="437.40" stroke="#2e2e2e" stroke-width="1.4"/>
<line x1="273.40" y1="477.20" x2="277.60" y2="477.20" stroke="#2e2e2e" stroke-width="1.4"/>
<line x1="317.20" y1="382.70" x2="317.20" y2="482.30" stroke="#2e2e2e" stroke-width="1.35"/>
<line x1="315.10" y1="382.70" x2="319.30" y2="382.70" stroke="#2e2e2e" stroke-width="1.4"/>
<line x1="315.10" y1="413.50" x2="319.30" y2="413.50" stroke="#2e2e2e" stroke-width="1.4"/>
<line x1="315.10" y1="461.70" x2="319.30" y2="461.70" stroke="#2e2e2e" stroke-width="1.4"/>
<line x1="315.10" y1="482.30" x2="319.30" y2="482.30" stroke="#2e2e2e" stroke-width="1.4"/>
<line x1="359.00" y1="370.30" x2="359.00" y2="456.30" stroke="#2e2e2e" stroke-width="1.35"/>
<line x1="356.90" y1="370.30" x2="361.10" y2="370.30" stroke="#2e2e2e" stroke-width="1.4"/>
<line x1="356.90" y1="400.80" x2="361.10" y2="400.80" stroke="#2e2e2e" stroke-width="1.4"/>
<line x1="356.90" y1="451.70" x2="361.10" y2="451.70" stroke="#2e2e2e" stroke-width="1.4"/>
<line x1="356.90" y1="456.30" x2="361.10" y2="456.30" stroke="#2e2e2e" stroke-width="1.4"/>
<line x1="400.70" y1="376.70" x2="400.70" y2="457.00" stroke="#2e2e2e" stroke-width="1.35"/>
<line x1="398.60" y1="376.70" x2="402.80" y2="376.70" stroke="#2e2e2e" stroke-width="1.4"/>
<line x1="398.60" y1="390.50" x2="402.80" y2="390.50" stroke="#2e2e2e" stroke-width="1.4"/>
<line x1="398.60" y1="441.40" x2="402.80" y2="441.40" stroke="#2e2e2e" stroke-width="1.4"/>
<line x1="398.60" y1="457.00" x2="402.80" y2="457.00" stroke="#2e2e2e" stroke-width="1.4"/>
<line x1="442.20" y1="382.90" x2="442.20" y2="465.40" stroke="#2e2e2e" stroke-width="1.35"/>
<line x1="440.10" y1="382.90" x2="444.30" y2="382.90" stroke="#2e2e2e" stroke-width="1.4"/>
<line x1="440.10" y1="396.70" x2="444.30" y2="396.70" stroke="#2e2e2e" stroke-width="1.4"/>
<line x1="440.10" y1="459.00" x2="444.30" y2="459.00" stroke="#2e2e2e" stroke-width="1.4"/>
<line x1="440.10" y1="465.40" x2="444.30" y2="465.40" stroke="#2e2e2e" stroke-width="1.4"/>
<line x1="484.20" y1="373.80" x2="484.20" y2="460.40" stroke="#2e2e2e" stroke-width="1.35"/>
<line x1="482.10" y1="373.80" x2="486.30" y2="373.80" stroke="#2e2e2e" stroke-width="1.4"/>
<line x1="482.10" y1="390.50" x2="486.30" y2="390.50" stroke="#2e2e2e" stroke-width="1.4"/>
<line x1="482.10" y1="446.60" x2="486.30" y2="446.60" stroke="#2e2e2e" stroke-width="1.4"/>
<line x1="482.10" y1="460.40" x2="486.30" y2="460.40" stroke="#2e2e2e" stroke-width="1.4"/>
<polygon points="233.60,332.40 237.80,339.70 229.40,339.70" fill="#1e1e1e"/>
<polygon points="275.50,440.10 279.70,447.40 271.30,447.40" fill="#1e1e1e"/>
<polygon points="317.20,417.50 321.40,424.80 313.00,424.80" fill="#1e1e1e"/>
<polygon points="359.00,409.40 363.20,416.70 354.80,416.70" fill="#1e1e1e"/>
<polygon points="400.70,420.20 404.90,427.50 396.50,427.50" fill="#1e1e1e"/>
<polygon points="442.20,426.60 446.40,433.90 438.00,433.90" fill="#1e1e1e"/>
<polygon points="484.20,421.30 488.40,428.60 480.00,428.60" fill="#1e1e1e"/>
<circle cx="233.60" cy="403.80" r="3.35" fill="#111"/>
<circle cx="275.50" cy="458.10" r="3.35" fill="#111"/>
<circle cx="317.20" cy="447.50" r="3.35" fill="#111"/>
<circle cx="359.00" cy="426.50" r="3.35" fill="#111"/>
<circle cx="400.70" cy="408.80" r="3.35" fill="#111"/>
<circle cx="442.20" cy="420.70" r="3.35" fill="#111"/>
<circle cx="484.20" cy="410.00" r="3.35" fill="#111"/>
<text transform="translate(276.25,403.34) scale(1.146,1)" font-size="9.19" font-weight="bold" fill="#111">*</text>
<text transform="translate(281.35,405.30) scale(1.110,1)" font-size="10.14" font-weight="bold" fill="#111">G1</text>
<rect x="420.70" y="274.60" width="48.00" height="29.10" fill="#fff" stroke="#383838" stroke-width="1.3"/>
<rect x="420.70" y="274.60" width="25.20" height="14.50" fill="none" stroke="#444" stroke-width="1.2"/>
<line x1="422.20" y1="281.80" x2="430.50" y2="281.80" stroke="#444" stroke-width="1.0"/>
<line x1="438.00" y1="281.80" x2="444.40" y2="281.80" stroke="#444" stroke-width="1.0"/>
<polygon points="434.00,278.10 437.70,284.90 430.30,284.90" fill="#222"/>
<line x1="422.20" y1="296.50" x2="430.50" y2="296.50" stroke="#333" stroke-width="1.0"/>
<line x1="437.50" y1="296.50" x2="444.90" y2="296.50" stroke="#333" stroke-width="1.0"/>
<ellipse cx="434.00" cy="296.50" rx="3.0" ry="3.0" fill="#111"/>
<text transform="translate(447.96,285.80) scale(1.104,1)" font-size="9.86" font-weight="normal" fill="#222" stroke="#222" stroke-width="0.3">G1</text>
<text transform="translate(447.95,300.20) scale(1.093,1)" font-size="10.00" font-weight="normal" fill="#222" stroke="#222" stroke-width="0.3">G2</text>
<path d="M210.2,261 Q212.3,261.4 212.3,263.5" fill="none" stroke="#6a6a6a" stroke-width="1.5"/>
<path d="M501,499.3 Q503.2,499.5 503.4,501.5" fill="none" stroke="#6a6a6a" stroke-width="1.4"/>
<text transform="translate(154.6,435.6) rotate(-90)" font-size="16" fill="#1a1a1a" stroke="#1a1a1a" stroke-width="0.3" textLength="60.5" lengthAdjust="spacingAndGlyphs">HF (ms<tspan font-size="8.8" dy="-4.9">2</tspan><tspan dy="4.9">)</tspan></text>
</svg></body></html>
